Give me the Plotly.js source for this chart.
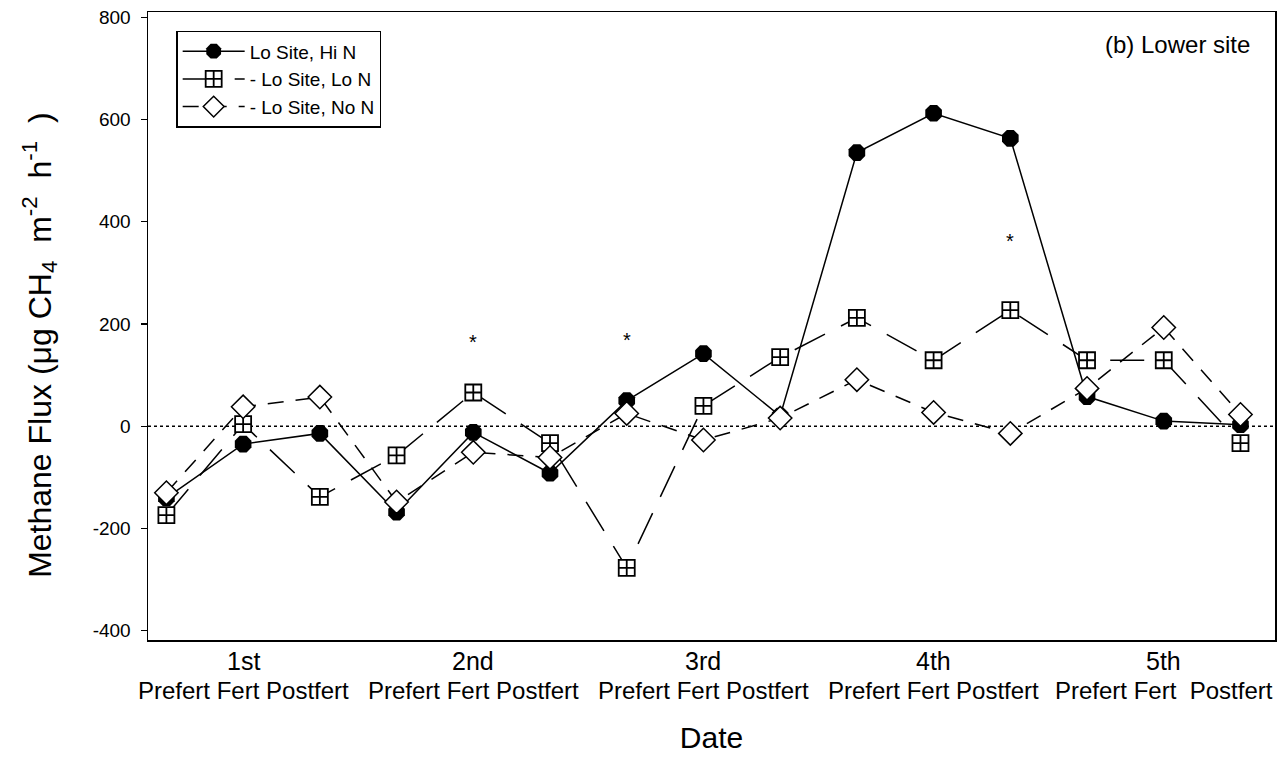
<!DOCTYPE html>
<html>
<head>
<meta charset="utf-8">
<script src="https://cdn.plot.ly/plotly-3.0.1.min.js"></script>
<style>html,body{margin:0;padding:0;background:#fff}#chart{width:1283px;height:757px}</style>
</head>
<body>
<div id="chart"></div>
<script>
// ---- data ----
const dates = ["1st", "2nd", "3rd", "4th", "5th"];
const phases = ["Prefert", "Fert", "Postfert"];
const groupLabels = ["Prefert Fert Postfert", "Prefert Fert Postfert", "Prefert Fert Postfert", "Prefert Fert Postfert", "Prefert Fert  Postfert"];
const categories = [];
dates.forEach(d => phases.forEach(p => categories.push(d + " " + p)));

const hiN = [-140, -35, -14, -168, -12, -92, 50, 142, 20, 535, 612, 563, 58, 10, 3];
const loN = [-174, 4, -138, -57, 66, -33, -277, 40, 135, 212, 129, 227, 129, 129, -33];
const noN = [-130, 38, 57, -148, -51, -61, 25, -27, 16, 91, 27, -14, 74, 193, 23];

const seriesNames = ["Lo Site, Hi N", "- Lo Site, Lo N", "- Lo Site, No N"];
const sigCats = ["2nd Fert", "3rd Prefert", "4th Postfert"];
const sigVals = [164, 168, 363];
const yTickVals = [-400, -200, 0, 200, 400, 600, 800];
const yTickText = ["-400", "-200", "0", "200", "400", "600", "800"];
const panelLabel = "(b) Lower site";
const xTitle = "Date";
const yTitle = "Methane Flux (\u03BCg CH<sub>4</sub>\u00A0 m<sup>-2</sup>\u00A0 h<sup>-1</sup>\u00A0\u00A0)";

// ---- chart ----
const font = "Liberation Sans, Arial, sans-serif";
const traces = [
  {x: categories, y: hiN, name: seriesNames[0], type: "scatter", mode: "lines+markers",
   line: {color: "#000", width: 1.5, dash: "solid"},
   marker: {symbol: "octagon", size: 18, color: "#000"}},
  {x: categories, y: loN, name: seriesNames[1], type: "scatter", mode: "lines+markers",
   line: {color: "#000", width: 1.5, dash: "34px,18px"},
   marker: {symbol: "square-cross", size: 16, color: "#fff", line: {color: "#000", width: 1.8}}},
  {x: categories, y: noN, name: seriesNames[2], type: "scatter", mode: "lines+markers",
   line: {color: "#000", width: 1.5, dash: "16px,12px"},
   marker: {symbol: "diamond", size: 18, color: "#fff", line: {color: "#000", width: 1.5}}}
];

const annotations = [];
dates.forEach((d, i) => {
  annotations.push({x: d + " Fert", y: 0, xref: "x", yref: "paper", yanchor: "top", yshift: -5,
    text: d, showarrow: false, font: {family: font, size: 25, color: "#000"}});
  annotations.push({x: d + " Fert", y: 0, xref: "x", yref: "paper", yanchor: "top", yshift: -35,
    text: groupLabels[i], showarrow: false, font: {family: font, size: 24, color: "#000"}});
});
sigCats.forEach((c, i) => {
  annotations.push({x: c, y: sigVals[i], xref: "x", yref: "y", text: "*", showarrow: false,
    font: {family: font, size: 20, color: "#000"}});
});
annotations.push({x: 0.98, y: 0.948, xref: "paper", yref: "paper", xanchor: "right", yanchor: "middle",
  text: panelLabel, showarrow: false, font: {family: font, size: 24, color: "#000"}});
annotations.push({x: -0.0958, y: 0.47, xref: "paper", yref: "paper", xanchor: "center", yanchor: "middle",
  textangle: -90, text: yTitle, showarrow: false, font: {family: font, size: 32, color: "#000"}});

const layout = {
  width: 1283, height: 757,
  margin: {l: 148, r: 8, t: 12, b: 117},
  paper_bgcolor: "#fff", plot_bgcolor: "#fff",
  font: {family: font, color: "#000"},
  showlegend: true,
  legend: {x: 0.025, y: 0.97, xanchor: "left", yanchor: "top", bgcolor: "#fff",
    bordercolor: "#000", borderwidth: 1.5, font: {family: font, size: 19, color: "#000"},
    tracegroupgap: 0, itemwidth: 62},
  xaxis: {type: "category", range: [-0.24, 14.45], showticklabels: false, ticks: "",
    showline: true, mirror: true, linecolor: "#000", linewidth: 1.5, showgrid: false, zeroline: false,
    title: {text: xTitle, font: {family: font, size: 30, color: "#000"}, standoff: 86}},
  yaxis: {range: [-418, 810], tickvals: yTickVals, ticktext: yTickText, ticks: "outside", ticklen: 6,
    tickwidth: 1.2, tickcolor: "#000", tickfont: {family: font, size: 19, color: "#000"},
    ticklabelstandoff: 6,
    showline: true, mirror: true, linecolor: "#000", linewidth: 1.5, showgrid: false, zeroline: false},
  shapes: [{type: "line", xref: "paper", yref: "y", x0: 0, x1: 1, y0: 0, y1: 0,
    line: {color: "#000", width: 1.5, dash: "dot"}, layer: "below"}],
  annotations: annotations
};

Plotly.newPlot("chart", traces, layout, {staticPlot: true});
</script>
</body>
</html>
